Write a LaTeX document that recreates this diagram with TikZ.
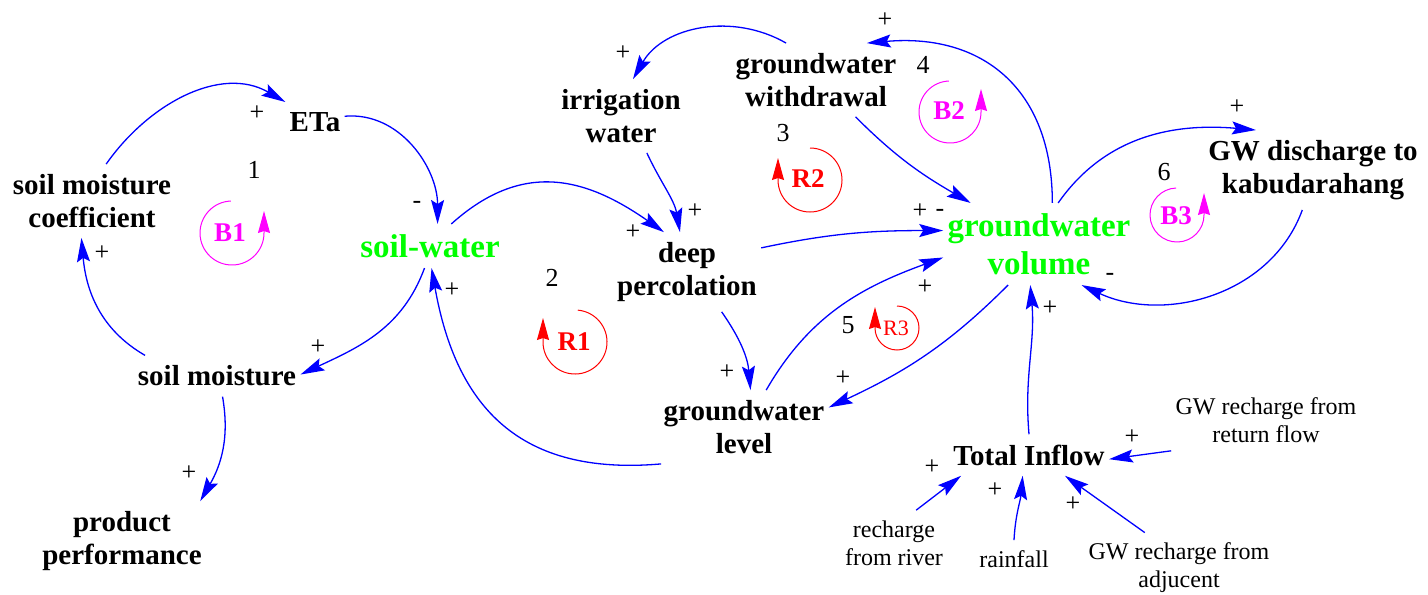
\documentclass[tikz,border=0pt]{standalone}
\usepackage{fontspec}
\setmainfont{Liberation Serif}
\usepackage{tikz}
\usetikzlibrary{arrows.meta,positioning}
\definecolor{gwgreen}{RGB}{0,255,0}
\definecolor{loopmag}{RGB}{255,0,255}
\definecolor{loopred}{RGB}{255,0,0}
\definecolor{linkblue}{RGB}{0,0,255}

\begin{document}
\begin{tikzpicture}[
    x=0.5pt, y=0.5pt,
    var/.style={font=\fontsize{14.5}{16.3}\selectfont\bfseries, align=center, inner xsep=2pt, inner ysep=5pt},
    stock/.style={var, font=\fontsize{16.5}{19}\selectfont\bfseries, text=gwgreen},
    ext/.style={var, font=\fontsize{12}{14}\selectfont},
    sign/.style={font=\fontsize{13}{13}\selectfont, inner sep=0pt},
    link/.style={linkblue, line width=0.65pt, -{Stealth[length=12pt, width=6.5pt, inset=2pt]}},
    bloop/.style={loopmag, line width=0.5pt, -{Stealth[length=11pt, width=6pt, inset=1pt]}},
    rloop/.style={bloop, loopred},
    blabel/.style={font=\fontsize{13.5}{13.5}\selectfont\bfseries, text=loopmag, inner sep=0pt},
    rlabel/.style={blabel, text=loopred}
]
\useasboundingbox (0,0) rectangle (1428,-594);

\node[var] (SMC) at (92,-201) {soil moisture\\coefficient};
\node[var] (ETa) at (315,-122) {ETa};
\node[stock] (SW) at (430,-246) {soil-water};
\node[var] (SM) at (217,-376) {soil moisture};
\node[var] (PP) at (122,-541) {product\\performance};
\node[var] (IW) at (621,-116) {irrigation\\water};
\node[var] (GWW) at (816,-80) {groundwater\\withdrawal};
\node[var] (DP) at (687,-272) {deep\\percolation};
\node[stock] (GWV) at (1039,-244) {groundwater\\volume};
\node[var] (GWD) at (1313,-170) {GW discharge to\\kabudarahang};
\node[var] (GWL) at (744,-427) {groundwater\\level};
\node[var] (TI) at (1029,-455) {Total Inflow};
\node[ext] (RF) at (1266,-420) {GW recharge from\\return flow};
\node[ext] (RR) at (894,-543) {recharge\\from river};
\node[ext] (RAIN) at (1014,-559) {rainfall};
\node[ext] (ADJ) at (1179,-568) {GW recharge from\\adjucent};

\draw[link] (SMC.69) to[out=55, in=150] (ETa.146);
\draw[link] (ETa.11) to[out=5, in=90] (SW.71);
\draw[link] (SW.256) to[out=250, in=25] (SM.1);
\draw[link] (SM.164) to[out=150, in=-85] (SMC.254);
\draw[link] (SM.285) to[out=-80, in=60] (PP.27);
\draw[link] (SW.46) to[out=42, in=145, looseness=1.15] (DP.120);
\draw[link] (GWL.204) to[out=185, in=-80, looseness=1.2] (SW.274);
\draw[link] (GWW.129) to[out=150, in=60] (IW.72);
\draw[link] (IW.305) to[out=-65, in=100] (DP.100);
\draw[link] (GWW.317) to[out=-45, in=150] (GWV.149);
\draw[link] (DP.18) to[out=12, in=180] (GWV.172);
\draw[link] (GWV.72) to[out=90, in=5, looseness=1.2] (GWW.36);
\draw[link] (GWV.65) to[out=55, in=175] (GWD.145);
\draw[link] (GWD.255) to[out=-110, in=-25] (GWV.316);
\draw[link] (GWL.59) to[out=60, in=200] (GWV.188);
\draw[link] (GWV.233) to[out=225, in=25] (GWL.13);
\draw[link] (DP.311) to[out=-55, in=95] (GWL.80);
\draw[link] (TI.north) to[out=95, in=-85] (GWV.258);
\draw[link] (RF.198) -- (TI.357);
\draw[link] (RR.56) -- (TI.197);
\draw[link] (RAIN.north) to[out=87, in=-95] (TI.253);
\draw[link] (ADJ.134) -- (TI.330);

\node[sign] (s1) at (257,-113) {+};
\node[sign] (s2) at (417,-205) {-};
\node[sign] (s3) at (318,-347) {+};
\node[sign] (s4) at (102,-253) {+};
\node[sign] (s5) at (189,-473) {+};
\node[sign] (s6) at (633,-232) {+};
\node[sign] (s7) at (452,-290) {+};
\node[sign] (s8) at (623,-53) {+};
\node[sign] (s9) at (695,-211) {+};
\node[sign] (s10) at (940,-213) {-};
\node[sign] (s11) at (920,-211) {+};
\node[sign] (s12) at (885,-20) {+};
\node[sign] (s13) at (1237,-107) {+};
\node[sign] (s14) at (1110,-277) {-};
\node[sign] (s15) at (925,-287) {+};
\node[sign] (s16) at (843,-378) {+};
\node[sign] (s17) at (727,-372) {+};
\node[sign] (s18) at (1050,-308) {+};
\node[sign] (s19) at (1132,-437) {+};
\node[sign] (s20) at (932,-467) {+};
\node[sign] (s21) at (995,-490) {+};
\node[sign] (s22) at (1073,-504) {+};

\node[sign] (L1) at (254,-170) {1};
\node[sign] (L2) at (552,-278) {2};
\node[sign] (L3) at (783,-133) {3};
\node[sign] (L4) at (923,-65) {4};
\node[sign] (L5) at (848,-325) {5};
\node[sign] (L6) at (1164,-172) {6};

\draw[bloop] (232,-233) ++(92:32) arc[start angle=92, end angle=360, radius=32] -- ++(0,22);
\node[blabel] (B1) at (230,-233) {B1};
\draw[bloop] (950,-112) ++(92:31) arc[start angle=92, end angle=360, radius=31] -- ++(0,23);
\node[blabel] (B2) at (949,-111) {B2};
\draw[bloop] (1177,-215) ++(92:27) arc[start angle=92, end angle=360, radius=27] -- ++(0,22);
\node[blabel] (B3) at (1176,-216) {B3};
\draw[rloop] (575,-342) ++(85:32) arc[start angle=85, end angle=-180, radius=32] -- ++(0,24);
\node[rlabel] (R1) at (574,-342) {R1};
\draw[rloop] (810,-180) ++(90:32) arc[start angle=90, end angle=-180, radius=32] -- ++(0,22);
\node[rlabel] (R2) at (808,-179) {R2};
\draw[rloop] (897,-328) ++(90:22) arc[start angle=90, end angle=-180, radius=22] -- ++(0,21);
\node[rlabel, font=\fontsize{11}{11}\selectfont] (R3) at (896,-328) {R3};
\end{tikzpicture}
\end{document}
